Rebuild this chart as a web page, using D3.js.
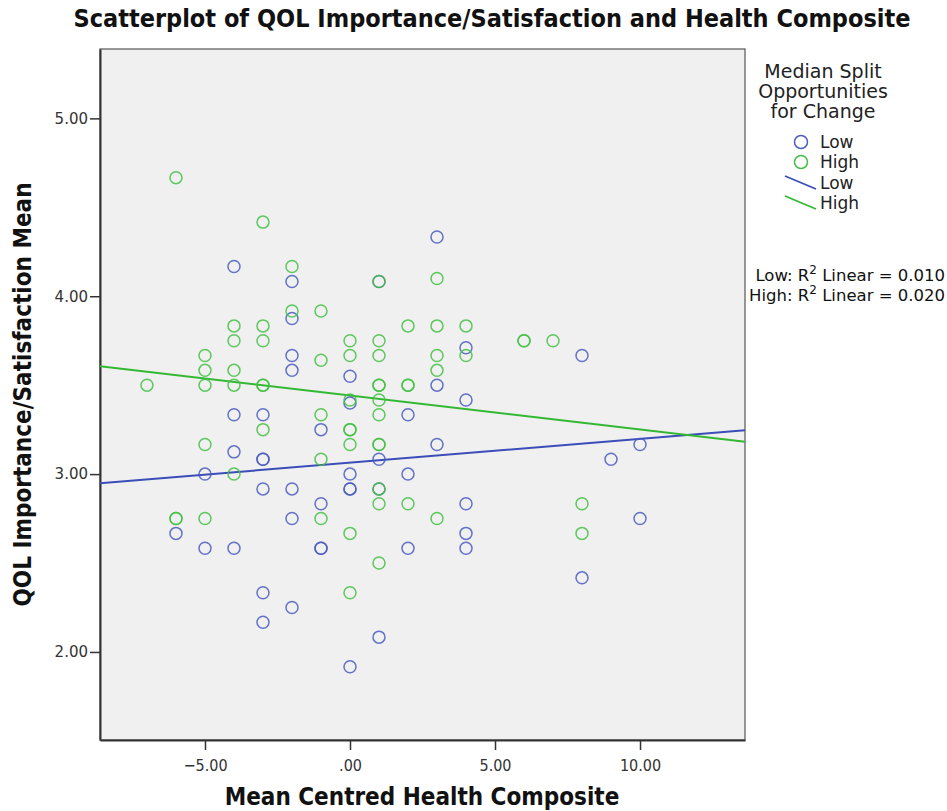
<!DOCTYPE html>
<html>
<head>
<meta charset="utf-8">
<script src="https://cdn.jsdelivr.net/npm/d3@7/dist/d3.min.js"></script>
<style>
  html, body { margin: 0; padding: 0; background: #ffffff; }
  svg { display: block; }
</style>
</head>
<body>
<svg id="chart" width="947" height="811"></svg>
<script>
// ---------- DATA ----------
const groups = ["Low", "High"];
const xTicks = [-5, 0, 5, 10];
const yTicks = [2, 3, 4, 5];

// Low group (blue)
const lowX = [-4, -2, -2, 3, 1, 4, 8, -2, -2, 0, -4, -3, -1, -4, -3, -3, -5, -3, -2, -1, -2, -6,
              3, 0, 4, 2, 3, 1, 0, 2, 0, 0, 4, 4, 10, 9, 10, -5, -4, -1, -1, -3, -2, -3, 0, 2, 4, 8, 1, 1];
const lowY = [4.1667, 4.0833, 3.875, 4.3333, 4.0833, 3.71, 3.6667, 3.6667, 3.5833, 3.55, 3.3333, 3.3333, 3.25, 3.125, 3.0833, 3.0833, 3.0, 2.9167, 2.9167, 2.8333, 2.75, 2.6667,
              3.5, 3.40, 3.4167, 3.3333, 3.1667, 3.0833, 3.0, 3.0, 2.9167, 2.9167, 2.8333, 2.6667, 3.1667, 3.0833, 2.75, 2.5833, 2.5833, 2.5833, 2.5833, 2.3333, 2.25, 2.1667, 1.9167, 2.5833, 2.5833, 2.4167, 2.0833, 2.9167];

// High group (green)
const highX = [-6, -3, -2, -2, -1, -4, -3, -4, -3, 0, 1, 3, 2, 3, 4, 1, 6, 6, 7, -5, -1, 0, -5, -4,
               -7, -5, -4, -3, -3, -1, -3, -5, -1, -4, -6, -6, -5, -1, 0, 1, 3, 4, 3, 1, 1, 2, 2, 0, 1, 1,
               0, 0, 0, 1, 1, 1, 1, 2, 8, 3, 8, 0, 1];
const highY = [4.6667, 4.4167, 4.1667, 3.9167, 3.9167, 3.8333, 3.8333, 3.75, 3.75, 3.75, 4.0833, 4.1, 3.8333, 3.8333, 3.8333, 3.75, 3.75, 3.75, 3.75, 3.6667, 3.64, 3.6667, 3.5833, 3.5833,
               3.5, 3.5, 3.5, 3.5, 3.5, 3.3333, 3.25, 3.1667, 3.0833, 3.0, 2.75, 2.75, 2.75, 2.75, 2.6667, 3.6667, 3.6667, 3.6667, 3.5833, 3.5, 3.5, 3.5, 3.5, 3.4167, 3.4167, 3.3333,
               3.25, 3.25, 3.1667, 3.1667, 3.1667, 2.9167, 2.8333, 2.8333, 2.8333, 2.75, 2.6667, 2.3333, 2.5];

// Linear fit lines
const fitIntercepts = [3.064, 3.442];
const fitSlopes = [0.0134, -0.0191];
const r2Values = ["0.010", "0.020"];

// ---------- LAYOUT ----------
const svg = d3.select("#chart");
const plot = { left: 100, top: 49, right: 745, bottom: 740 };
const xDomain = [-8.62, 13.62];
const yDomain = [1.505, 5.39];

const x = d3.scaleLinear().domain(xDomain).range([plot.left, plot.right]);
const y = d3.scaleLinear().domain(yDomain).range([plot.bottom, plot.top]);

const colors = { Low: "#4a5cc0", High: "#44c044" };
const lineColors = { Low: "#3a4db8", High: "#33b833" };

const fmt = v => { const s = d3.format(".2f")(v); return s === "0.00" ? ".00" : s; };

// Plot background
svg.append("rect")
  .attr("x", plot.left).attr("y", plot.top)
  .attr("width", plot.right - plot.left).attr("height", plot.bottom - plot.top)
  .attr("fill", "#f0f0f0").attr("stroke", "#555").attr("stroke-width", 1.2);

// Axes
const xAxis = d3.axisBottom(x).tickValues(xTicks).tickFormat(fmt).tickSize(10).tickSizeOuter(0);
const yAxis = d3.axisLeft(y).tickValues(yTicks).tickFormat(fmt).tickSize(10).tickSizeOuter(0);

const gx = svg.append("g").attr("transform", `translate(0,${plot.bottom})`).call(xAxis);
const gy = svg.append("g").attr("transform", `translate(${plot.left},0)`).call(yAxis);

[gx, gy].forEach(g => {
  g.attr("font-size", null).attr("font-family", null);
  g.select(".domain").attr("stroke", "#333").attr("stroke-width", 2);
  g.selectAll(".tick line").attr("stroke", "#333").attr("stroke-width", 1.5);
  g.selectAll(".tick text")
    .attr("fill", "#333")
    .style("font-family", "'DejaVu Sans', sans-serif")
    .style("font-size", "15px");
});
gx.selectAll(".tick text").attr("dy", "1.1em")
  .style("font-family", "'DejaVu Sans Condensed', 'DejaVu Sans', sans-serif").style("font-size", "16px");
gy.selectAll(".tick text").attr("x", -12);

// Fit lines
const clipId = "plotclip";
svg.append("clipPath").attr("id", clipId).append("rect")
  .attr("x", plot.left).attr("y", plot.top)
  .attr("width", plot.right - plot.left).attr("height", plot.bottom - plot.top);

const lineGen = d3.line().x(d => x(d[0])).y(d => y(d[1]));
groups.forEach((g, i) => {
  const pts = xDomain.map(xv => [xv, fitIntercepts[i] + fitSlopes[i] * xv]);
  svg.append("path")
    .attr("d", lineGen(pts))
    .attr("clip-path", `url(#${clipId})`)
    .attr("fill", "none")
    .attr("stroke", lineColors[g])
    .attr("stroke-width", 2);
});

// Points
const lowData = lowX.map((v, i) => ({ x: v, y: lowY[i], g: "Low" }));
const highData = highX.map((v, i) => ({ x: v, y: highY[i], g: "High" }));
const allData = lowData.concat(highData);

svg.append("g").selectAll("circle")
  .data(allData)
  .join("circle")
  .attr("cx", d => x(d.x))
  .attr("cy", d => y(d.y))
  .attr("r", 6)
  .attr("fill", "none")
  .attr("stroke", d => colors[d.g])
  .attr("stroke-width", 1.5)
  .attr("stroke-opacity", 0.85);

// Title
svg.append("text")
  .attr("x", 492).attr("y", 27)
  .attr("text-anchor", "middle")
  .style("font-family", "'Liberation Sans Narrow', 'DejaVu Sans Condensed', sans-serif")
  .style("font-weight", "bold")
  .style("font-size", "25px")
  .attr("fill", "#111")
  .text("Scatterplot of QOL Importance/Satisfaction and Health Composite");

// X axis title
svg.append("text")
  .attr("x", 422).attr("y", 805)
  .attr("text-anchor", "middle")
  .style("font-family", "'Liberation Sans Narrow', 'DejaVu Sans Condensed', sans-serif")
  .style("font-weight", "bold")
  .style("font-size", "24px")
  .attr("fill", "#111")
  .text("Mean Centred Health Composite");

// Y axis title
svg.append("text")
  .attr("transform", `translate(31,${(plot.top + plot.bottom) / 2}) rotate(-90)`)
  .attr("text-anchor", "middle")
  .style("font-family", "'Liberation Sans Narrow', 'DejaVu Sans Condensed', sans-serif")
  .style("font-weight", "bold")
  .style("font-size", "24px")
  .attr("fill", "#111")
  .text("QOL Importance/Satisfaction Mean");

// Legend
const legendFont = "'DejaVu Sans', sans-serif";
const legTitle = ["Median Split", "Opportunities", "for Change"];
svg.append("g").selectAll("text")
  .data(legTitle)
  .join("text")
  .attr("x", 823)
  .attr("y", (d, i) => 78 + i * 20)
  .attr("text-anchor", "middle")
  .style("font-family", legendFont)
  .style("font-size", "19px")
  .attr("fill", "#222")
  .text(d => d);

groups.forEach((g, i) => {
  const cy = 142 + i * 20;
  svg.append("circle")
    .attr("cx", 801).attr("cy", cy).attr("r", 6.5)
    .attr("fill", "none").attr("stroke", colors[g]).attr("stroke-width", 1.5);
  svg.append("text")
    .attr("x", 820).attr("y", cy + 6)
    .style("font-family", legendFont).style("font-size", "17px").attr("fill", "#222")
    .text(g);
});
groups.forEach((g, i) => {
  const ly = 183 + i * 20;
  svg.append("line")
    .attr("x1", 785).attr("y1", ly - 7)
    .attr("x2", 816).attr("y2", ly + 6)
    .attr("stroke", lineColors[g]).attr("stroke-width", 1.8);
  svg.append("text")
    .attr("x", 820).attr("y", ly + 6)
    .style("font-family", legendFont).style("font-size", "17px").attr("fill", "#222")
    .text(g);
});

// R-squared annotations
groups.forEach((g, i) => {
  const t = svg.append("text")
    .attr("x", 945).attr("y", 281 + i * 20)
    .attr("text-anchor", "end")
    .style("font-family", legendFont).style("font-size", "16.5px").attr("fill", "#111");
  t.append("tspan").text(`${g}: R`);
  t.append("tspan").attr("dy", -7).style("font-size", "12px").text("2");
  t.append("tspan").attr("dy", 7).text(` Linear = ${r2Values[i]}`);
});
</script>
</body>
</html>
